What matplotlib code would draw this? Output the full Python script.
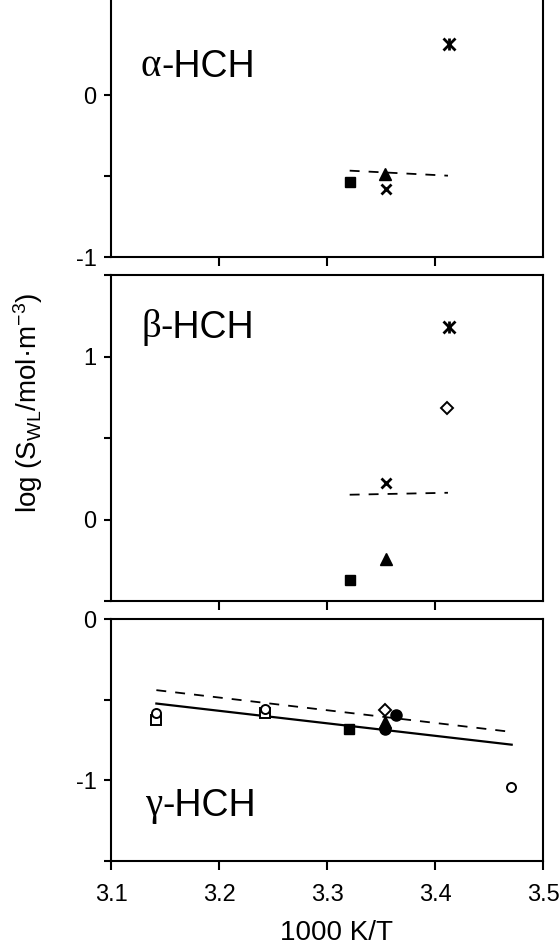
import matplotlib
matplotlib.use("Agg")
import matplotlib.pyplot as plt
from matplotlib.ticker import FixedLocator, NullFormatter

plt.rcParams['font.family'] = ['Liberation Sans', 'DejaVu Sans']
plt.rcParams['mathtext.default'] = 'regular'
plt.rcParams['axes.unicode_minus'] = False

# ---- alpha-HCH ----
a_sq_x, a_sq_y = [3.321], [-0.535]
a_tri_x, a_tri_y = [3.354], [-0.488]
a_x_x, a_x_y = [3.355], [-0.580]
a_ast_x, a_ast_y = [3.413], [0.315]
a_dash_x, a_dash_y = [3.321, 3.412], [-0.467, -0.498]

# ---- beta-HCH ----
b_sq_x, b_sq_y = [3.321], [-0.372]
b_tri_x, b_tri_y = [3.355], [-0.245]
b_x_x, b_x_y = [3.355], [0.225]
b_dia_x, b_dia_y = [3.411], [0.685]
b_ast_x, b_ast_y = [3.413], [1.182]
b_dash_x, b_dash_y = [3.321, 3.412], [0.152, 0.164]

# ---- gamma-HCH ----
g_osq_x, g_osq_y = [3.142, 3.243], [-0.625, -0.585]
g_ocirc_x, g_ocirc_y = [3.142, 3.243, 3.470], [-0.585, -0.555, -1.040]
g_sq_x, g_sq_y = [3.320], [-0.679]
g_tri_x, g_tri_y = [3.354], [-0.640]
g_circ_x, g_circ_y = [3.354, 3.364], [-0.680, -0.596]
g_dia_x, g_dia_y = [3.354], [-0.565]
g_fit_x, g_fit_y = [3.142, 3.471], [-0.524, -0.779]
g_dash_x, g_dash_y = [3.142, 3.471], [-0.441, -0.700]

x_ticks = [3.1, 3.2, 3.3, 3.4, 3.5]

W, H = 560, 951
fig = plt.figure(figsize=(W / 100, H / 100), dpi=100)


def add_axes(top_px, bottom_px):
    left, right = 111, 543
    return fig.add_axes([left / W, 1 - bottom_px / H,
                         (right - left) / W, (bottom_px - top_px) / H])


ax1 = add_axes(-3, 257)
ax2 = add_axes(275, 601)
ax3 = add_axes(619, 861)

dash_kw = dict(color='black', lw=1.3, linestyle=(0, (5.5, 5)))
fill_kw = dict(color='black', linestyle='none')
open_kw = dict(color='black', markerfacecolor='white', linestyle='none', mew=1.4)


def asterisk(ax, x, y):
    ax.plot(x, y, marker='x', ms=8, mew=2.0, **fill_kw)
    ax.plot(x, y, marker='|', ms=9, mew=2.0, **fill_kw)


# alpha panel
ax1.plot(a_dash_x, a_dash_y, **dash_kw)
ax1.plot(a_sq_x, a_sq_y, marker='s', ms=7, **fill_kw)
ax1.plot(a_tri_x, a_tri_y, marker='^', ms=9, **fill_kw)
ax1.plot(a_x_x, a_x_y, marker='x', ms=7.5, mew=2.0, **fill_kw)
asterisk(ax1, a_ast_x, a_ast_y)

# beta panel
ax2.plot(b_dash_x, b_dash_y, **dash_kw)
ax2.plot(b_sq_x, b_sq_y, marker='s', ms=7, **fill_kw)
ax2.plot(b_tri_x, b_tri_y, marker='^', ms=9, **fill_kw)
ax2.plot(b_x_x, b_x_y, marker='x', ms=7.5, mew=2.0, **fill_kw)
ax2.plot(b_dia_x, b_dia_y, marker='D', ms=6, **open_kw)
asterisk(ax2, b_ast_x, b_ast_y)

# gamma panel
ax3.plot(g_fit_x, g_fit_y, color='black', lw=1.6)
ax3.plot(g_dash_x, g_dash_y, **dash_kw)
ax3.plot(g_osq_x, g_osq_y, marker='s', ms=6.5, **open_kw)
ax3.plot(g_ocirc_x, g_ocirc_y, marker='o', ms=6.5, **open_kw)
ax3.plot(g_sq_x, g_sq_y, marker='s', ms=7, **fill_kw)
ax3.plot(g_tri_x, g_tri_y, marker='^', ms=8, **fill_kw)
ax3.plot(g_circ_x, g_circ_y, marker='o', ms=8, **fill_kw)
ax3.plot(g_dia_x, g_dia_y, marker='D', ms=6, **open_kw)

limits = [(ax1, (-1, 0.605), [-1, 0], [-0.5]),
          (ax2, (-0.5, 1.5), [0, 1], [-0.5, 0.5, 1.5]),
          (ax3, (-1.5, 0), [-1, 0], [-1.5, -0.5])]
for ax, ylim, major, minor in limits:
    ax.set_xlim(3.1, 3.5)
    ax.set_ylim(*ylim)
    ax.yaxis.set_major_locator(FixedLocator(major))
    ax.yaxis.set_minor_locator(FixedLocator(minor))
    ax.yaxis.set_minor_formatter(NullFormatter())
    ax.set_yticklabels([str(v) for v in major])
    for s in ax.spines.values():
        s.set_linewidth(1.5)
    ax.tick_params(axis='y', which='both', direction='out', length=5.3,
                   width=1.5, labelsize=17, pad=5)
    ax.tick_params(axis='x', direction='out', length=6.5, width=1.5,
                   labelsize=17, pad=10)

for ax in (ax1, ax2):
    ax.set_xticks(x_ticks[1:-1])
    ax.tick_params(axis='x', labelbottom=False)
ax3.set_xticks(x_ticks)
ax3.set_xticklabels([f"{v:.1f}" for v in x_ticks])

fig.text(337 / W, 1 - 946 / H, '1000 K/T', fontsize=20,
         ha='center', va='bottom')

# panel names: Greek letter in a serif face followed by "-HCH"
for ax, greek, (px, py) in [(ax1, 'α', (141, 76)),
                             (ax2, 'β', (141, 337)),
                             (ax3, 'γ', (145, 815))]:
    t = fig.text(px / W, 1 - py / H, greek, fontsize=28,
                 family=['Liberation Serif', 'DejaVu Serif'], va='baseline')
    ax.annotate('-HCH', xy=(1, 0), xycoords=t, va='bottom', fontsize=27,
                annotation_clip=False)

fig.text(28 / W, 1 - 513 / H,
         r'log (S$_{WL}$/mol·m$^{-3}$)', rotation=90,
         ha='center', va='bottom', fontsize=20)

fig.savefig('out.png', dpi=100)
